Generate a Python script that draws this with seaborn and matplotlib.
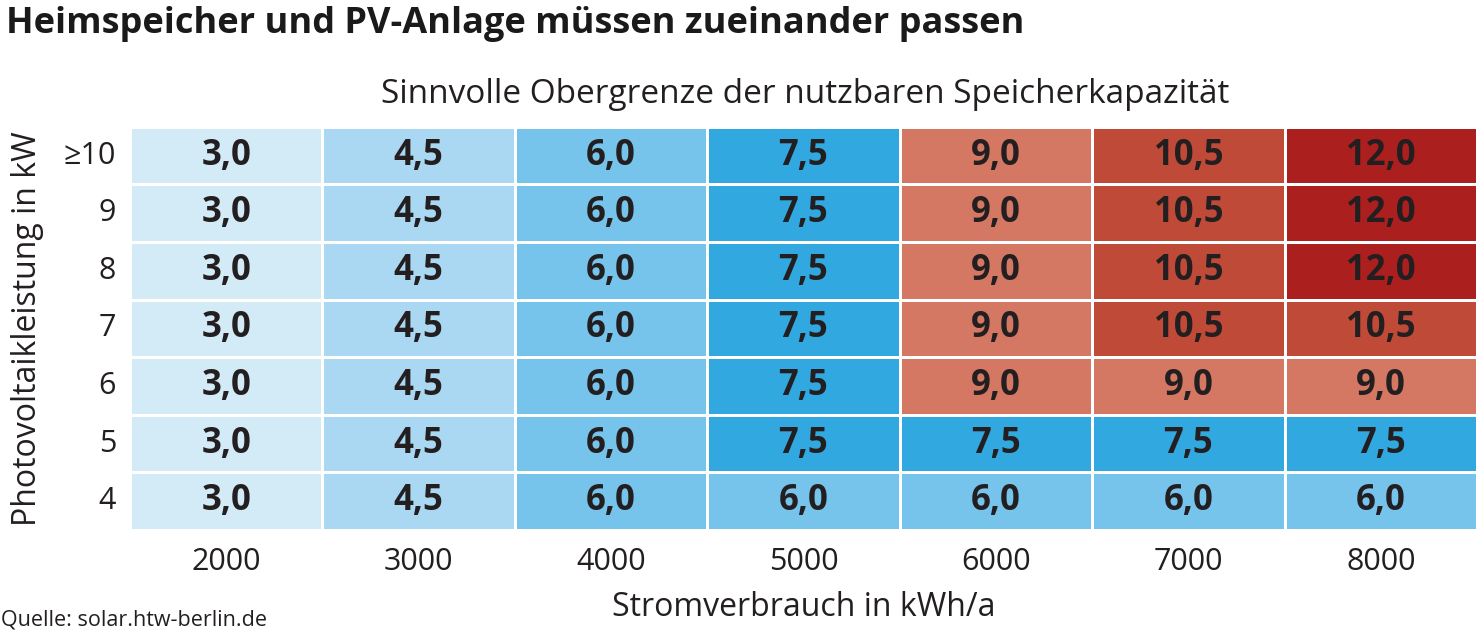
import matplotlib
matplotlib.use("Agg")
import matplotlib.pyplot as plt
from matplotlib.colors import ListedColormap, BoundaryNorm
import numpy as np
import pandas as pd
import seaborn as sns

# Stromverbrauch (Spalten) und PV-Leistung (Zeilen, oben nach unten)
verbrauch = ["2000", "3000", "4000", "5000", "6000", "7000", "8000"]
pv_leistung = ["≥10", "9", "8", "7", "6", "5", "4"]

row_10 = [3.0, 4.5, 6.0, 7.5, 9.0, 10.5, 12.0]
row_9 = [3.0, 4.5, 6.0, 7.5, 9.0, 10.5, 12.0]
row_8 = [3.0, 4.5, 6.0, 7.5, 9.0, 10.5, 12.0]
row_7 = [3.0, 4.5, 6.0, 7.5, 9.0, 10.5, 10.5]
row_6 = [3.0, 4.5, 6.0, 7.5, 9.0, 9.0, 9.0]
row_5 = [3.0, 4.5, 6.0, 7.5, 7.5, 7.5, 7.5]
row_4 = [3.0, 4.5, 6.0, 6.0, 6.0, 6.0, 6.0]

stufen = [3.0, 4.5, 6.0, 7.5, 9.0, 10.5, 12.0]
farben = ["#d3eaf7", "#aad8f2", "#76c3eb", "#31a8e0", "#d47763", "#c04a38", "#ab1f1e"]

df = pd.DataFrame([row_10, row_9, row_8, row_7, row_6, row_5, row_4],
                  index=pv_leistung, columns=verbrauch)
labels = df.apply(lambda c: c.map(lambda v: f"{v:.1f}".replace(".", ",")))

sns.set_theme(style="white")
plt.rcParams["font.family"] = ["Open Sans", "DejaVu Sans"]

cmap = ListedColormap(farben)
grenzen = [s - 0.75 for s in stufen] + [stufen[-1] + 0.75]
norm = BoundaryNorm(grenzen, cmap.N)

fig = plt.figure(figsize=(14.77, 6.37), dpi=100)
ax = fig.add_axes([0.088, 0.168, 0.912, 0.633])
sns.heatmap(df, ax=ax, cmap=cmap, norm=norm, cbar=False,
            annot=labels, fmt="", linewidths=2, linecolor="white",
            annot_kws={"fontsize": 25, "fontweight": "bold", "color": "#231f20"})

ax.tick_params(axis="x", length=0, labelsize=22, colors="#231f20", pad=12)
ax.tick_params(axis="y", length=0, labelsize=22, colors="#231f20", pad=10)
ax.set_yticklabels(pv_leistung, rotation=0)
ax.set_xticklabels(verbrauch, rotation=0)
ax.set_xlabel("Stromverbrauch in kWh/a", fontsize=23, color="#231f20", labelpad=10)
ax.set_ylabel("Photovoltaikleistung in kW", fontsize=23, color="#231f20", labelpad=14)

fig.text(0.004, 0.963, "Heimspeicher und PV-Anlage müssen zueinander passen",
         fontsize=26, fontweight="bold", color="#1a1a1a", va="center", ha="left")
fig.text(0.545, 0.851, "Sinnvolle Obergrenze der nutzbaren Speicherkapazität",
         fontsize=24, color="#231f20", va="center", ha="center")
fig.text(0.001, 0.027, "Quelle: solar.htw-berlin.de",
         fontsize=15.5, color="#231f20", va="center", ha="left")

fig.savefig("out.png", dpi=100)
